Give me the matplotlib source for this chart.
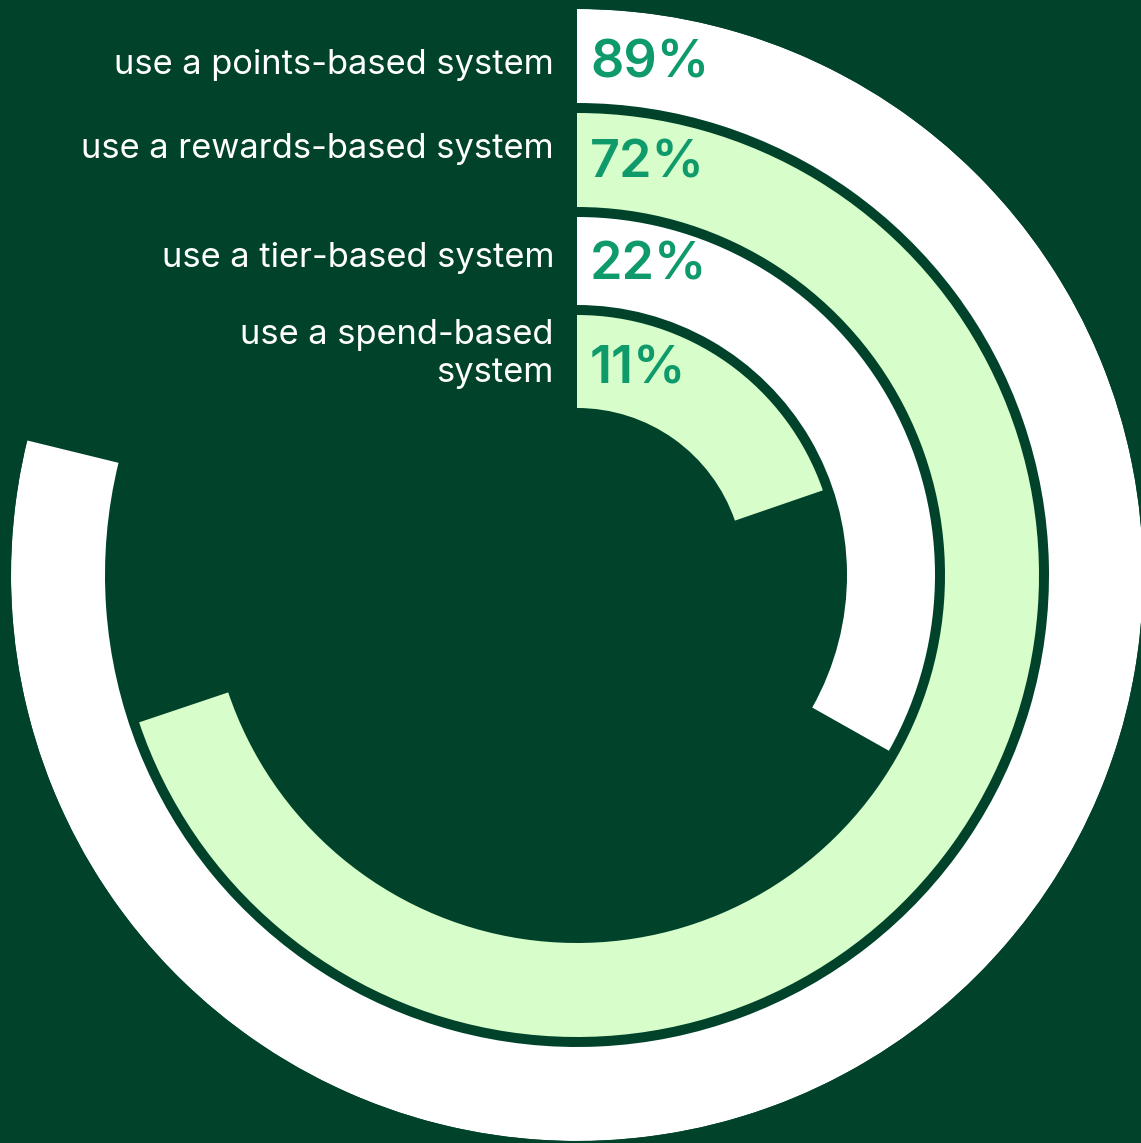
import numpy as np
import matplotlib
matplotlib.use("Agg")
import matplotlib.pyplot as plt

# ---- data ----
categories = ["use a points-based system", "use a rewards-based system",
              "use a tier-based system", "use a spend-based\nsystem"]
values = [89, 72, 22, 11]
value_labels = ["89%", "72%", "22%", "11%"]
arc_degrees = [283.75, 251.4, 119.4, 71.0]   # sweep of each ring as drawn

# ---- style ----
BG = "#00432A"
WHITE = "#FFFFFF"
LIGHT = "#D6FDCA"
PCT = "#0E9A6A"
ring_colors = [WHITE, LIGHT, WHITE, LIGHT]
outer_r = [566, 462, 358, 260]
inner_r = [472, 368, 270, 167]

W, H = 1141, 1143
fig = plt.figure(figsize=(W / 100, H / 100), dpi=100, facecolor=BG)

cx, cy, R = 577, 575, 566
ax = fig.add_axes([(cx - R) / W, (H - cy - R) / H, 2 * R / W, 2 * R / H],
                  projection="polar")
ax.set_facecolor("none")
ax.set_theta_zero_location("N")
ax.set_theta_direction(-1)
ax.set_rlim(0, R)
ax.axis("off")

for deg, ro, ri, col in zip(arc_degrees, outer_r, inner_r, ring_colors):
    th = np.deg2rad(deg)
    ax.bar(th / 2, ro - ri, width=th, bottom=ri, color=col,
           edgecolor="none", linewidth=0, align="center")


def fy(y):
    return (H - y) / H


label_baselines = [74, 158, 267, 382]
pct_baselines = [78, 177, 280, 383]

for cat, yb in zip(categories, label_baselines):
    lines = cat.split("\n")
    n = len(lines)
    for i, line in enumerate(lines):
        y = yb - (n - 1 - i) * 38
        fig.text(554 / W, fy(y), line, ha="right", va="baseline",
                 color=WHITE, fontsize=24.8, family="Inter")

for lab, yb in zip(value_labels, pct_baselines):
    fig.text(590 / W, fy(yb), lab, ha="left", va="baseline",
             color=PCT, fontsize=37.5, family="Inter", fontweight="semibold")

fig.savefig("out.png", dpi=100, facecolor=BG)
